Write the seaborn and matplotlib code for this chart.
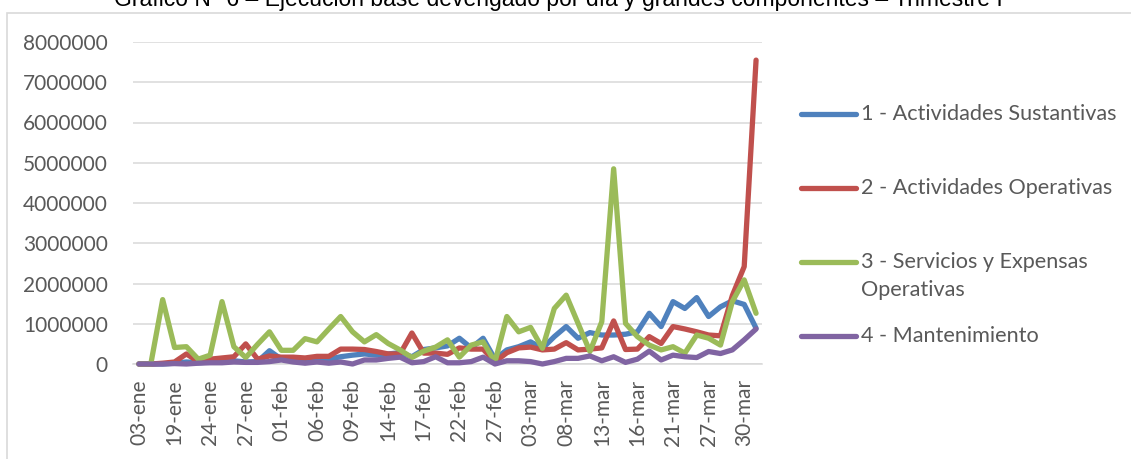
import numpy as np
import pandas as pd
import seaborn as sns
import matplotlib
matplotlib.use("Agg")
import matplotlib.pyplot as plt
from matplotlib.lines import Line2D
from matplotlib.patches import Rectangle

sns.set_theme(style="white")
plt.rcParams['font.family'] = ['Lato', 'DejaVu Sans']

title = "Gráfico N° 6 – Ejecución base devengado por día y grandes componentes – Trimestre I"

tick_labels = ["03-ene", "19-ene", "24-ene", "27-ene", "01-feb", "06-feb", "09-feb",
               "14-feb", "17-feb", "22-feb", "27-feb", "03-mar", "08-mar", "13-mar",
               "16-mar", "21-mar", "27-mar", "30-mar"]

series_names = ["1 - Actividades Sustantivas", "2 - Actividades Operativas",
                "3 - Servicios y Expensas Operativas", "4 - Mantenimiento"]
legend_lines = [["1 - Actividades Sustantivas"], ["2 - Actividades Operativas"],
                ["3 - Servicios y Expensas", "Operativas"], ["4 - Mantenimiento"]]

s1 = [0, 0, 0, 20000, 50000, 30000, 50000, 70000, 80000, 50000,
      60000, 330000, 120000, 100000, 100000, 120000, 120000, 180000, 220000, 250000,
      220000, 250000, 280000, 180000, 360000, 400000, 450000, 640000, 400000, 640000,
      120000, 350000, 430000, 550000, 390000, 680000, 930000, 640000, 780000, 720000,
      720000, 740000, 800000, 1260000, 930000, 1550000, 1380000, 1650000, 1180000, 1420000,
      1570000, 1480000, 890000]
s2 = [0, 0, 20000, 50000, 250000, 60000, 120000, 150000, 180000, 500000,
      120000, 200000, 170000, 170000, 150000, 190000, 190000, 370000, 370000, 360000,
      310000, 250000, 250000, 770000, 270000, 270000, 240000, 400000, 370000, 370000,
      50000, 280000, 400000, 420000, 350000, 370000, 530000, 350000, 370000, 400000,
      1070000, 360000, 370000, 680000, 510000, 930000, 870000, 800000, 720000, 700000,
      1700000, 2420000, 7550000]
s3 = [0, 0, 1600000, 410000, 430000, 120000, 220000, 1550000, 430000, 160000,
      490000, 800000, 340000, 340000, 630000, 550000, 870000, 1180000, 800000, 550000,
      730000, 510000, 350000, 160000, 320000, 420000, 600000, 170000, 470000, 550000,
      50000, 1180000, 800000, 910000, 390000, 1380000, 1710000, 1010000, 310000, 1050000,
      4850000, 1010000, 680000, 470000, 350000, 430000, 270000, 720000, 640000, 470000,
      1550000, 2090000, 1260000]
s4 = [0, 0, 0, 10000, 0, 20000, 30000, 30000, 50000, 40000,
      40000, 60000, 100000, 50000, 20000, 50000, 20000, 50000, 0, 100000,
      100000, 140000, 170000, 30000, 60000, 180000, 30000, 30000, 60000, 170000,
      0, 80000, 80000, 60000, 0, 60000, 140000, 140000, 200000, 80000,
      180000, 40000, 120000, 320000, 100000, 220000, 180000, 160000, 310000, 260000,
      350000, 600000, 870000]

colors = ["#4F81BD", "#C0504D", "#9BBB59", "#8064A2"]
yticks = [0, 1000000, 2000000, 3000000, 4000000, 5000000, 6000000, 7000000, 8000000]

n = len(s1)
pos = list(range(n))
df = pd.DataFrame({
    "pos": pos * 4,
    "valor": s1 + s2 + s3 + s4,
    "serie": sum([[nm] * n for nm in series_names], []),
})

W, H = 1131, 459
fig = plt.figure(figsize=(W / 100, H / 100), dpi=100)
ax = fig.add_axes([133 / W, 1 - 364 / H, (762 - 133) / W, (364 - 42) / H])

sns.lineplot(data=df, x="pos", y="valor", hue="serie", hue_order=series_names,
             palette=colors, linewidth=3.8, estimator=None, sort=False,
             legend=False, ax=ax)
for ln in ax.lines:
    ln.set_solid_joinstyle("round")
    ln.set_solid_capstyle("round")
    ln.set_clip_on(False)
    ln.set_zorder(3)

ax.set_xlim(-0.5, n - 0.5)
ax.set_ylim(0, 8000000)
ax.set_yticks(yticks)
ax.set_yticklabels([str(v) for v in yticks])
ax.set_xticks(list(range(0, n, 3))[:len(tick_labels)])
ax.set_xticklabels(tick_labels, rotation=90)
ax.set_xlabel("")
ax.set_ylabel("")
ax.grid(axis="y", color="#d9d9d9", linewidth=1.1)
ax.grid(axis="x", visible=False)
ax.set_axisbelow(True)
for sp in ["top", "right", "left"]:
    ax.spines[sp].set_visible(False)
ax.spines["bottom"].set_color("#d9d9d9")
ax.spines["bottom"].set_linewidth(1.1)
ax.tick_params(axis="y", length=0, pad=18, labelsize=15, labelcolor="#595959")
ax.tick_params(axis="x", length=0, pad=11, labelsize=15, labelcolor="#595959")

# legend
leg_y = [114, 188, 262, 336]
for c, lines, yy in zip(colors, legend_lines, leg_y):
    fig.add_artist(Line2D([801 / W, 856 / W], [1 - yy / H, 1 - yy / H],
                          transform=fig.transFigure, color=c, linewidth=3.8,
                          solid_capstyle="round"))
    for k, txt in enumerate(lines):
        fig.text(861 / W, 1 - (yy + 28 * k) / H, txt, ha="left", va="center",
                 fontsize=15.6, color="#595959")

# chart border
fig.add_artist(Rectangle((7 / W, -0.05), 1.2, 1.05 - 13 / H, transform=fig.transFigure,
                         fill=False, edgecolor="#d9d9d9", linewidth=1.2))

fig.text(558 / W, 1 - 6 / H, title, ha="center", va="baseline", fontsize=16.5,
         family=["Liberation Sans", "DejaVu Sans"], color="#000000")

fig.savefig("out.png", dpi=100)
